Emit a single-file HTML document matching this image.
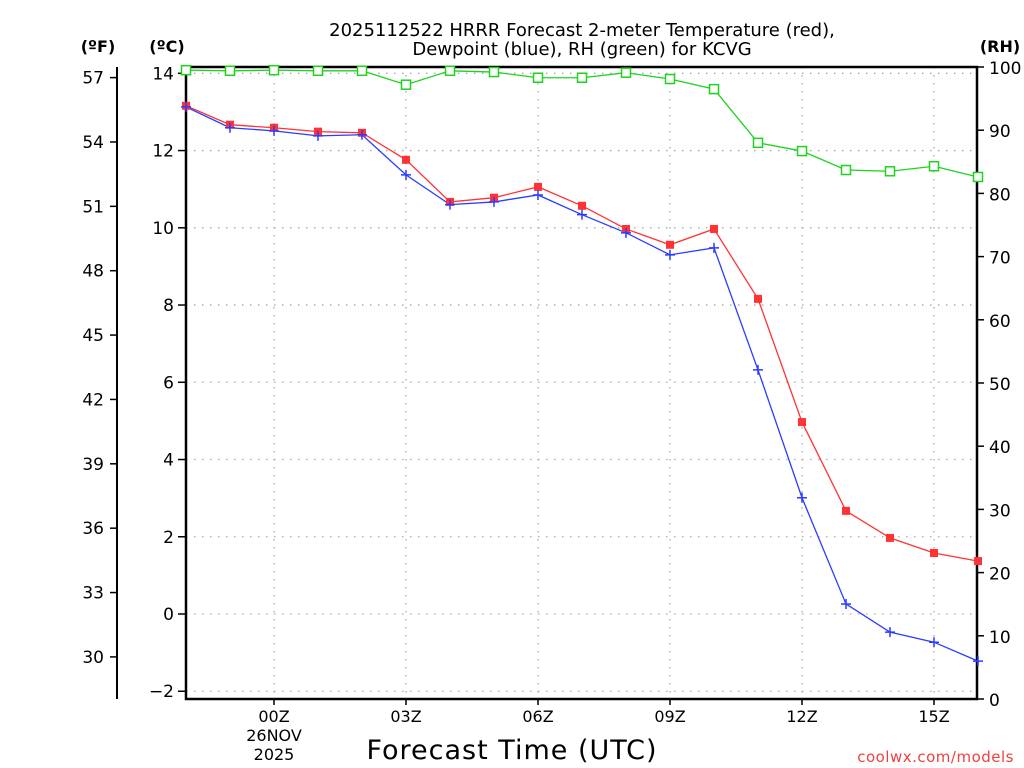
<!DOCTYPE html>
<html><head><meta charset="utf-8"><style>
html,body{margin:0;padding:0;background:#fff;}
svg{display:block;font-family:"DejaVu Sans","Liberation Sans",sans-serif;}
</style></head><body>
<svg id="chart" width="1024" height="768" viewBox="0 0 1024 768" xmlns="http://www.w3.org/2000/svg">
<text x="582" y="36" text-anchor="middle" font-size="18" fill="#000">2025112522 HRRR Forecast 2-meter Temperature (red),</text>
<text x="582" y="55" text-anchor="middle" font-size="18" fill="#000">Dewpoint (blue), RH (green) for KCVG</text>
<text x="98" y="52" text-anchor="middle" font-size="16" font-weight="bold">(ºF)</text>
<text x="167" y="52" text-anchor="middle" font-size="16" font-weight="bold">(ºC)</text>
<text x="1000" y="52" text-anchor="middle" font-size="16" font-weight="bold">(RH)</text>
<text x="512" y="759" text-anchor="middle" font-size="27" letter-spacing="1">Forecast Time (UTC)</text>
<text x="1014" y="762" text-anchor="end" font-size="15" fill="#f04040" letter-spacing="0.5">coolwx.com/models</text>
<g id="grid"></g><g id="axes"></g><g id="series"></g>
</svg>
<script>
const hours = [-2,-1,0,1,2,3,4,5,6,7,8,9,10,11,12,13,14,15,16];
const tempC = [13.16,12.67,12.59,12.49,12.46,11.76,10.67,10.78,11.06,10.57,9.97,9.56,9.97,8.16,4.97,2.67,1.97,1.58,1.37];
const dewC = [13.13,12.59,12.51,12.38,12.41,11.37,10.60,10.67,10.85,10.34,9.87,9.30,9.48,6.32,3.01,0.26,-0.47,-0.73,-1.22];
const rh = [99.5,99.4,99.5,99.4,99.4,97.2,99.4,99.2,98.3,98.3,99.1,98.1,96.5,88.0,86.7,83.7,83.5,84.3,82.6];
const cTicks = [-2,0,2,4,6,8,10,12,14];
const fTicks = [30,33,36,39,42,45,48,51,54,57];
const rhTicks = [0,10,20,30,40,50,60,70,80,90,100];
const xTickHours = [0,3,6,9,12,15];
const xTickLabels = ["00Z","03Z","06Z","09Z","12Z","15Z"];

const NS="http://www.w3.org/2000/svg";
const L=186,R=977,T=67,B=699;
const xS=h=>274+h*44;
const yC=c=>614-c*38.62;
const yF=f=>yC((f-32)*5/9);
const yR=r=>B-r*(B-T)/100;
function mk(tag,attrs,parent,text){const e=document.createElementNS(NS,tag);for(const k in attrs)e.setAttribute(k,attrs[k]);if(text!==undefined)e.textContent=text;parent.appendChild(e);return e;}
const grid=document.getElementById('grid'),axes=document.getElementById('axes'),ser=document.getElementById('series');
const dash={stroke:"#aaa","stroke-width":1.3,"stroke-dasharray":"1.5,6.5"};
cTicks.forEach(c=>{const g=mk('line',Object.assign({x1:L,x2:R,y1:yC(c),y2:yC(c)},dash),grid);


const t=mk('line',{x1:L-8,x2:L,y1:yC(c),y2:yC(c),stroke:"#000","stroke-width":1.5},axes);


const lb=mk('text',{x:L-12,y:yC(c)+6,"text-anchor":"end","font-size":17},axes,c<0?"\u2212"+(-c):String(c));

});
xTickHours.forEach((h,i)=>{const g=mk('line',Object.assign({x1:xS(h),x2:xS(h),y1:T,y2:B},dash),grid);


const t=mk('line',{x1:xS(h),x2:xS(h),y1:B,y2:B+6,stroke:"#000","stroke-width":1.5},axes);


const lb=mk('text',{x:xS(h),y:722,"text-anchor":"middle","font-size":16},axes,xTickLabels[i]);

});
[["26NOV",741],["2025",760]].forEach(d=>{const lb=mk('text',{x:xS(0),y:d[1],"text-anchor":"middle","font-size":16},axes,d[0]);

});
// F axis
const fa=mk('line',{x1:117,x2:117,y1:T,y2:B,stroke:"#000","stroke-width":2},axes);


fTicks.forEach(f=>{const t=mk('line',{x1:110,x2:117,y1:yF(f),y2:yF(f),stroke:"#000","stroke-width":1.5},axes);


const lb=mk('text',{x:104,y:yF(f)+6,"text-anchor":"end","font-size":17},axes,String(f));

});
rhTicks.forEach(r=>{const t=mk('line',{x1:R,x2:R+7,y1:yR(r),y2:yR(r),stroke:"#000","stroke-width":1.5},axes);


const lb=mk('text',{x:989,y:yR(r)+7,"font-size":17},axes,String(r));

});
const fr=mk('path',{d:`M${L},${T}H${R}V${B}H${L}Z`,fill:"none",stroke:"#000","stroke-width":2.5},axes);


function line(vals,yf,color,name){
 const pts=hours.map((h,i)=>xS(h)+","+yf(vals[i])).join(" ");
 const p=mk('polyline',{points:pts,fill:"none",stroke:color,"stroke-width":1.3},ser);
 
 
}
line(rh,yR,"#1ed21e","rh");
line(tempC,yC,"#ff3333","temperature");
line(dewC,yC,"#2a3cff","dewpoint");
hours.forEach((h,i)=>{
 const s=mk('rect',{x:xS(h)-4.5,y:yR(rh[i])-4.5,width:9,height:9,fill:"#fff",stroke:"#1ed21e","stroke-width":1.5},ser);
 
 
 const r=mk('rect',{x:xS(h)-4,y:yC(tempC[i])-4,width:8,height:8,fill:"#ff3333"},ser);
 
 
 const x=xS(h),y=yC(dewC[i]);
 const d=mk('path',{d:`M${x-5},${y}H${x+5}M${x},${y-5}V${y+5}`,stroke:"#2a3cff","stroke-width":1.5},ser);
 
 
});
</script>
</body></html>
